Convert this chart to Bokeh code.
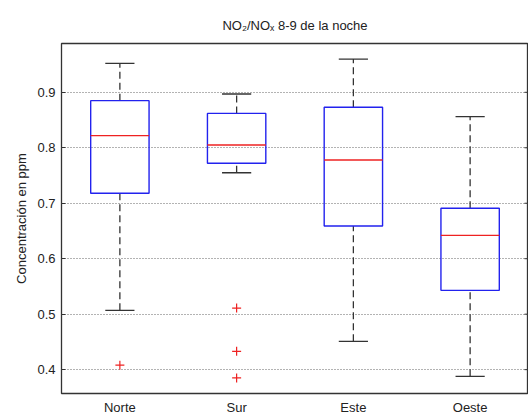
import math
from bokeh.plotting import figure
from bokeh.models import FactorRange, Range1d, FixedTicker, ColumnDataSource
from bokeh.transform import dodge
from bokeh.embed import file_html
from bokeh.resources import INLINE

# ---- data ----
categories = ["Norte", "Sur", "Este", "Oeste"]
whisker_low = [0.507, 0.755, 0.451, 0.388]
q1 = [0.718, 0.772, 0.659, 0.543]
median = [0.822, 0.805, 0.778, 0.642]
q3 = [0.885, 0.862, 0.873, 0.691]
whisker_high = [0.952, 0.897, 0.960, 0.856]
outlier_cat = ["Norte", "Sur", "Sur", "Sur"]
outlier_val = [0.408, 0.511, 0.433, 0.385]
y_ticks = [0.4, 0.5, 0.6, 0.7, 0.8, 0.9]

FONT = "Liberation Sans"

src = ColumnDataSource(dict(cat=categories, lo=whisker_low, q1=q1, med=median,
                            q3=q3, hi=whisker_high))
out_src = ColumnDataSource(dict(cat=outlier_cat, val=outlier_val))
tick_src = ColumnDataSource(dict(cat=[categories[-1]] * len(y_ticks), y=y_ticks))

p = figure(x_range=FactorRange(factors=categories, range_padding=0),
           y_range=Range1d(0.357, 0.988),
           frame_width=467, frame_height=350,
           min_border_left=61, min_border_right=0, min_border_top=43, min_border_bottom=25,
           output_backend="svg", toolbar_location=None,
           title="NO₂/NOₓ 8-9 de la noche")

p.title.align = "center"
p.title.text_font = FONT
p.title.text_font_size = "13px"
p.title.text_font_style = "normal"
p.title.text_color = "#222222"
p.title.standoff = 21

p.outline_line_color = "#333333"
p.outline_line_width = 1.3
p.background_fill_color = "white"
p.border_fill_color = "white"

# grid
p.xgrid.grid_line_color = None
p.ygrid.ticker = FixedTicker(ticks=y_ticks)
p.ygrid.grid_line_color = "#666666"
p.ygrid.grid_line_dash = "1 2"
p.ygrid.grid_line_width = 1

# axes
p.yaxis.ticker = FixedTicker(ticks=y_ticks)
for ax in (p.xaxis[0], p.yaxis[0]):
    ax.major_label_text_font = FONT
    ax.major_label_text_font_size = "13px"
    ax.major_label_text_color = "#222222"
    ax.axis_line_color = None
    ax.minor_tick_line_color = None
    ax.major_tick_out = 0

p.yaxis.major_tick_in = 4
p.yaxis.major_tick_line_color = "#333333"
p.yaxis.major_label_standoff = 6
p.yaxis.axis_label = "Concentración en ppm"
p.yaxis.axis_label_text_font = FONT
p.yaxis.axis_label_text_font_size = "13px"
p.yaxis.axis_label_text_font_style = "normal"
p.yaxis.axis_label_text_color = "#222222"
p.yaxis.axis_label_standoff = 5

p.xaxis.major_tick_in = 0
p.xaxis.major_tick_line_color = None
p.xaxis.major_label_standoff = 6

# inward ticks on the right edge of the frame
p.ray(x=dodge("cat", 0.5, range=p.x_range), y="y", source=tick_src,
      length=4, length_units="screen", angle=math.pi,
      line_color="#333333", line_width=1)

# whiskers (dashed)
p.segment(x0="cat", y0="q3", x1="cat", y1="hi", source=src,
          line_color="#333333", line_width=1.3, line_dash="7 4")
p.segment(x0="cat", y0="lo", x1="cat", y1="q1", source=src,
          line_color="#333333", line_width=1.3, line_dash="7 4")
# caps
p.segment(x0=dodge("cat", -0.125, range=p.x_range), y0="hi",
          x1=dodge("cat", 0.125, range=p.x_range), y1="hi", source=src,
          line_color="#333333", line_width=1.3)
p.segment(x0=dodge("cat", -0.125, range=p.x_range), y0="lo",
          x1=dodge("cat", 0.125, range=p.x_range), y1="lo", source=src,
          line_color="#333333", line_width=1.3)
# boxes
p.vbar(x="cat", bottom="q1", top="q3", width=0.5, source=src,
       fill_color=None, line_color="#2222ee", line_width=1.4)
# medians
p.segment(x0=dodge("cat", -0.25, range=p.x_range), y0="med",
          x1=dodge("cat", 0.25, range=p.x_range), y1="med", source=src,
          line_color="#ee2222", line_width=1.3)
# outliers
p.scatter(x="cat", y="val", source=out_src, marker="cross", size=9,
          line_color="#ee2222", line_width=1.2)

open("out.html", "w").write(file_html(p, INLINE))
